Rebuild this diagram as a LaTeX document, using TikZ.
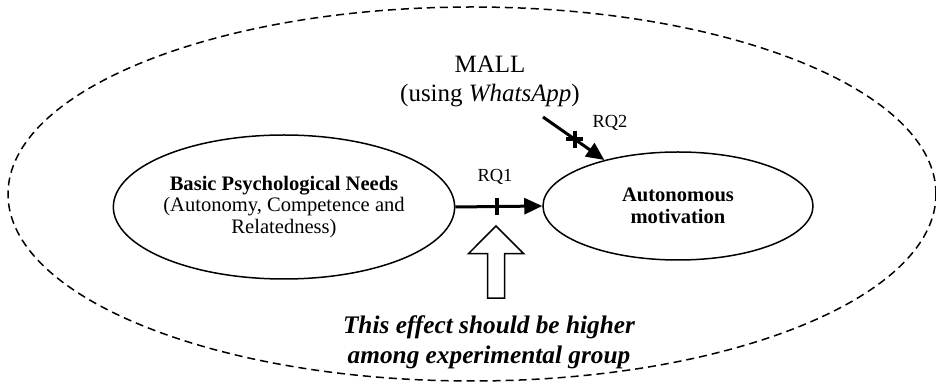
\documentclass[tikz,border=0pt]{standalone}
\usepackage{fontspec}
\setmainfont{Liberation Serif}
\usetikzlibrary{arrows.meta,positioning,shapes.geometric,shapes.arrows}

\tikzset{
  construct/.style={ellipse, draw, line width=0.03cm, inner sep=0pt, align=center,
    font=\fontsize{11.7}{12.3}\selectfont},
  path arrow/.style={line width=0.06cm, -{Triangle[length=0.36cm,width=0.32cm]}},
  rq label/.style={font=\fontsize{10.5}{12}\selectfont},
}
% plus sign drawn across a path
\newcommand{\plusat}[1]{%
  \draw [line width=0.075cm] ([yshift=0.17cm]#1) -- ([yshift=-0.17cm]#1)
    ([xshift=-0.17cm]#1) -- ([xshift=0.17cm]#1);}

\begin{document}
\begin{tikzpicture}
    \useasboundingbox (0,0) rectangle (18.72,7.82);

    % Drawing the dashed frame
    \draw [line width=0.03cm, dash pattern=on 0.16cm off 0.1cm] (9.44,3.94) ellipse (9.28 and 3.74);%

    % Marking construct needs
    \node [construct, minimum width=6.76cm, minimum height=2.88cm] (needs) at (5.68,3.68)
      {\textbf{Basic Psychological Needs}\\(Autonomy, Competence and\\Relatedness)};%

    % Marking construct auto
    \node [construct, minimum width=5.4cm, minimum height=2.16cm] (auto) at (13.56,3.70)
      {\textbf{Autonomous}\\\textbf{motivation}};%

    % Marking moderator MALL
    \node [align=center, font=\fontsize{14.2}{16.5}\selectfont] (mall) at (9.8,6.2)
      {MALL\\(using \textit{WhatsApp})};%
    \coordinate (mallend) at (10.86,5.48);

    % Drawing path RQ1
    \draw [path arrow] (needs.east) -- coordinate [pos=0.48] (plusone) (auto.west);%
    \plusat{plusone}
    \node [rq label] (rqone) at (9.9,4.28) {RQ1};%

    % Drawing path RQ2
    \draw [path arrow] (mallend) -- coordinate [pos=0.52] (plustwo) (auto.148);%
    \plusat{plustwo}
    \node [rq label] (rqtwo) at (12.2,5.36) {RQ2};%

    % Drawing hollow arrow
    \node [single arrow, draw, line width=0.03cm, rotate=90, anchor=tip,
      minimum height=1.44cm, inner xsep=0pt, inner ysep=0.155cm,
      single arrow head extend=0.38cm, single arrow tip angle=90] (hint) at (9.92,3.32) {};%

    % Marking note
    \node [align=center, font=\bfseries\itshape\fontsize{14.4}{17}\selectfont] (note) at (9.78,0.98)
      {This effect should be higher\\among experimental group};%
\end{tikzpicture}
\end{document}
